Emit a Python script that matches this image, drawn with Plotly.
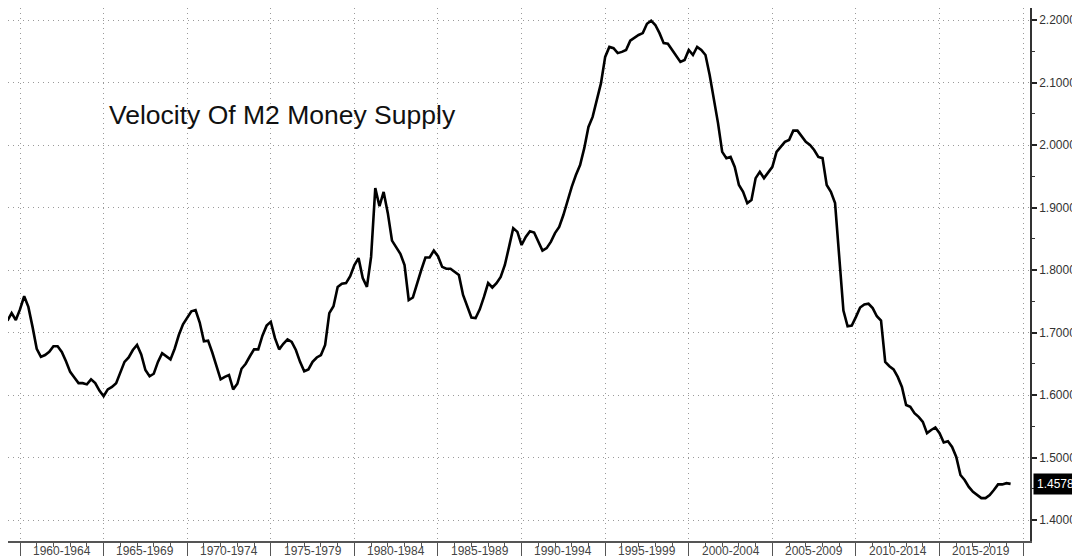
import plotly.graph_objects as go

# Quarterly velocity of M2 (1959Q1 .. 2019Q1)
start_year = 1959
v_1959_1969 = [1.719, 1.731, 1.720, 1.737, 1.758, 1.741, 1.709, 1.674, 1.661, 1.664,
               1.669, 1.678, 1.678, 1.669, 1.654, 1.637, 1.628, 1.619, 1.619, 1.617,
               1.625, 1.619, 1.607, 1.598, 1.609, 1.613, 1.619, 1.635, 1.653, 1.660,
               1.672, 1.680, 1.665, 1.640, 1.630, 1.634, 1.653, 1.667, 1.662, 1.657,
               1.674, 1.696, 1.713, 1.723]
v_1970s = [1.734, 1.736, 1.716, 1.686, 1.687, 1.668, 1.647, 1.625, 1.629, 1.632,
           1.609, 1.618, 1.642, 1.650, 1.662, 1.673, 1.673, 1.695, 1.711, 1.717,
           1.691, 1.673, 1.682, 1.689, 1.685, 1.672, 1.653, 1.638, 1.641, 1.653,
           1.660, 1.664, 1.680, 1.731, 1.742, 1.773, 1.778, 1.779, 1.790, 1.808]
v_1980s = [1.819, 1.787, 1.773, 1.821, 1.931, 1.902, 1.925, 1.891, 1.847, 1.837,
           1.826, 1.808, 1.752, 1.756, 1.779, 1.800, 1.820, 1.820, 1.831, 1.822,
           1.805, 1.802, 1.802, 1.797, 1.792, 1.760, 1.741, 1.724, 1.723, 1.737,
           1.757, 1.779, 1.772, 1.779, 1.789, 1.808, 1.837, 1.867, 1.861, 1.840]
v_1990s = [1.853, 1.862, 1.860, 1.845, 1.831, 1.835, 1.845, 1.859, 1.869, 1.888,
           1.912, 1.933, 1.952, 1.968, 1.995, 2.029, 2.045, 2.072, 2.099, 2.141,
           2.157, 2.155, 2.147, 2.149, 2.152, 2.167, 2.172, 2.176, 2.179, 2.194,
           2.199, 2.192, 2.179, 2.163, 2.162, 2.152, 2.141, 2.133, 2.136, 2.152]
v_2000s = [2.144, 2.157, 2.152, 2.144, 2.112, 2.075, 2.035, 1.989, 1.979, 1.981,
           1.965, 1.936, 1.925, 1.907, 1.912, 1.947, 1.957, 1.947, 1.957, 1.965,
           1.989, 1.997, 2.005, 2.008, 2.023, 2.023, 2.013, 2.005, 2.000, 1.992,
           1.981, 1.979, 1.936, 1.925, 1.907, 1.820, 1.735, 1.710, 1.711, 1.725]
v_2010s = [1.740, 1.745, 1.746, 1.739, 1.726, 1.719, 1.653, 1.646, 1.641, 1.629,
           1.613, 1.584, 1.581, 1.571, 1.565, 1.557, 1.539, 1.544, 1.548, 1.539,
           1.524, 1.526, 1.517, 1.501, 1.472, 1.464, 1.453, 1.445, 1.440, 1.435,
           1.435, 1.440, 1.448, 1.457, 1.457, 1.459, 1.4578]

band_starts = [1960, 1965, 1970, 1975, 1980, 1985, 1990, 1995, 2000, 2005, 2010, 2015]
band_labels = ["1960-1964", "1965-1969", "1970-1974", "1975-1979", "1980-1984",
               "1985-1989", "1990-1994", "1995-1999", "2000-2004", "2005-2009",
               "2010-2014", "2015-2019"]
y_ticks = [1.4, 1.5, 1.6, 1.7, 1.8, 1.9, 2.0, 2.1, 2.2]
title_text = "Velocity Of M2 Money Supply"
last_label = "1.4578"

values = v_1959_1969 + v_1970s + v_1980s + v_1990s + v_2000s + v_2010s
# quarter-end positions in decimal years
xs = [start_year + (k // 4) + ((k % 4) + 1) / 4 for k in range(len(values))]

FONT = "Liberation Sans, Arial, sans-serif"

fig = go.Figure()
fig.add_trace(go.Scatter(x=xs, y=values, mode="lines",
                         line=dict(color="#000000", width=2.6),
                         cliponaxis=False,
                         hoverinfo="skip", showlegend=False))

grid_dash = "1px,4px"
fig.update_layout(
    width=1072, height=552,
    margin=dict(l=0, r=50, t=0, b=19, autoexpand=False),
    paper_bgcolor="white", plot_bgcolor="white",
    font=dict(family=FONT, color="#333333", size=12),
    xaxis=dict(
        range=[1959.282, 2020.41],
        tickmode="array", tickvals=band_starts + [2020],
        showticklabels=False,
        ticks="outside", ticklen=13, tickwidth=1, tickcolor="#555555",
        showgrid=True, gridcolor="#9a9a9a", gridwidth=1, griddash=grid_dash,
        showline=True, linecolor="#555555", linewidth=2,
        zeroline=False, fixedrange=True,
        minor=dict(tickmode="linear", tick0=1960, dtick=1, ticks="outside",
                   ticklen=4, tickwidth=1, tickcolor="#555555", showgrid=False),
    ),
    yaxis=dict(
        side="right",
        range=[1.3664, 2.2192],
        tickmode="array", tickvals=y_ticks, tickformat=".4f",
        ticks="outside", ticklen=5, tickwidth=2, tickcolor="#222222",
        tickfont=dict(size=12, color="#333333", family=FONT),
        showgrid=True, gridcolor="#9a9a9a", gridwidth=1, griddash=grid_dash,
        showline=True, linecolor="#333333", linewidth=1.5,
        zeroline=False, fixedrange=True,
        minor=dict(tickmode="linear", tick0=1.35, dtick=0.05, ticks="outside",
                   ticklen=3, tickwidth=1, tickcolor="#333333", showgrid=False),
    ),
)

# x band labels centred between the 5-year boundaries
for s, lab in zip(band_starts, band_labels):
    fig.add_annotation(x=s + 2.5, xref="x", y=0, yref="paper",
                       yanchor="top", yshift=-1, text=lab, showarrow=False,
                       font=dict(size=12, color="#444444", family=FONT))

# chart title inside the plot
fig.add_annotation(x=0.0969, xref="paper", y=0.7992, yref="paper",
                   xanchor="left", yanchor="middle", text=title_text,
                   showarrow=False,
                   font=dict(size=26.5, color="#111111", family=FONT))

# last value box on the right axis
fig.add_annotation(x=1, xref="paper", y=values[-1], yref="y",
                   xanchor="left", yanchor="middle", xshift=3,
                   text=last_label, showarrow=False,
                   bgcolor="#000000", borderpad=3,
                   font=dict(size=12, color="#ffffff", family=FONT))

fig.write_html("out.html")
